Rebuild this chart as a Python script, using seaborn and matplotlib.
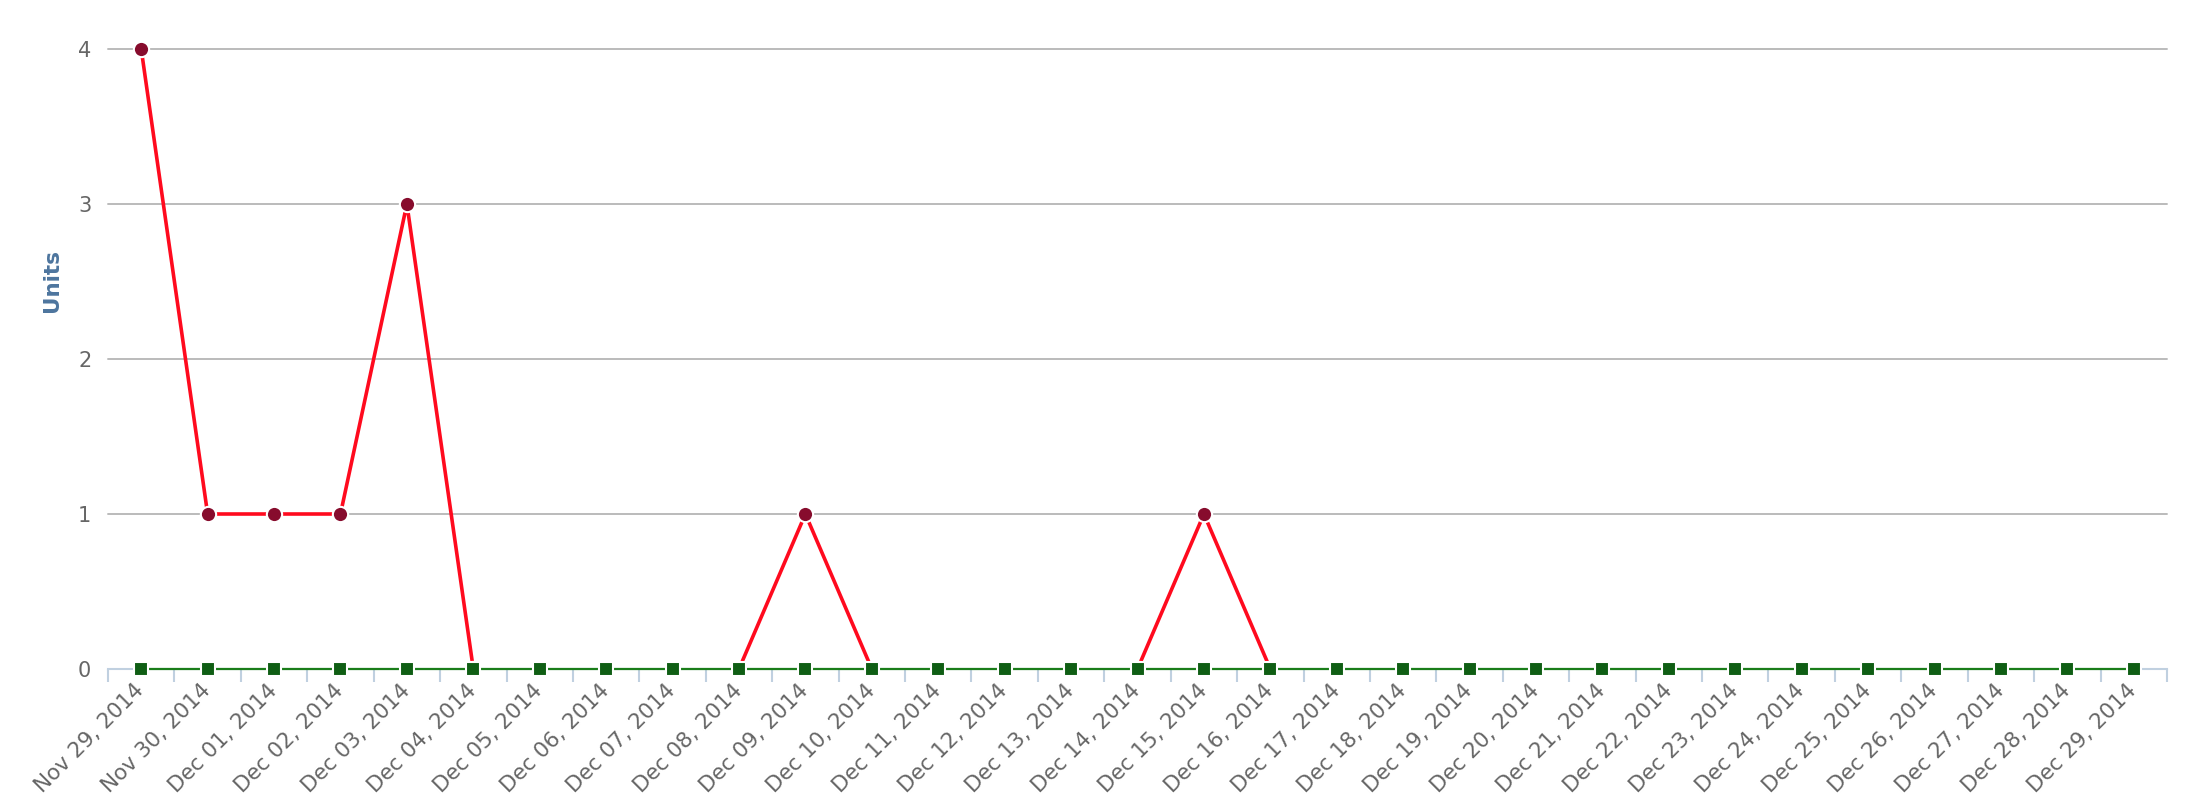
"""
Daily units line chart, Nov 29 - Dec 29 2014
"""
import matplotlib
matplotlib.use("Agg")
import matplotlib.pyplot as plt
import seaborn as sns
import numpy as np
import pandas as pd

nan = np.nan

# ========== Data ==========
dates = [
    "Nov 29, 2014", "Nov 30, 2014", "Dec 01, 2014", "Dec 02, 2014", "Dec 03, 2014",
    "Dec 04, 2014", "Dec 05, 2014", "Dec 06, 2014", "Dec 07, 2014", "Dec 08, 2014",
    "Dec 09, 2014", "Dec 10, 2014", "Dec 11, 2014", "Dec 12, 2014", "Dec 13, 2014",
    "Dec 14, 2014", "Dec 15, 2014", "Dec 16, 2014", "Dec 17, 2014", "Dec 18, 2014",
    "Dec 19, 2014", "Dec 20, 2014", "Dec 21, 2014", "Dec 22, 2014", "Dec 23, 2014",
    "Dec 24, 2014", "Dec 25, 2014", "Dec 26, 2014", "Dec 27, 2014", "Dec 28, 2014",
    "Dec 29, 2014",
]
red_units = [4, 1, 1, 1, 3, 0, nan, nan, nan, 0, 1, 0, nan, nan, nan, 0, 1, 0,
             nan, nan, nan, nan, nan, nan, nan, nan, nan, nan, nan, nan, nan]
green_units = [0, 0, 0, 0, 0, 0, 0, 0, 0, 0, 0, 0, 0, 0, 0, 0, 0, 0, 0, 0,
               0, 0, 0, 0, 0, 0, 0, 0, 0, 0, 0]
y_ticks = [0, 1, 2, 3, 4]

# Build frames (red line has gaps where values are missing)
idx = np.arange(len(dates))
df_red = pd.DataFrame({"x": idx, "units": red_units})
df_red["seg"] = df_red["units"].isna().cumsum()
df_red = df_red.dropna()
df_green = pd.DataFrame({"x": idx, "units": green_units})

# ========== Plot ==========
sns.set_style("white")
plt.rcParams["font.family"] = ["DejaVu Sans"]

fig = plt.figure(figsize=(21.91, 8.05), dpi=100)
ax = fig.add_axes([108 / 2191, 136 / 805, 2059 / 2191, 620 / 805])

sns.lineplot(data=df_red, x="x", y="units", units="seg", estimator=None,
             color="#ff0a1e", linewidth=2.6, marker="o", markersize=11,
             markerfacecolor="#870c2d", markeredgecolor="white",
             markeredgewidth=1.5, clip_on=False, zorder=3, ax=ax)
sns.lineplot(data=df_green, x="x", y="units", estimator=None,
             color="#1a7d1a", linewidth=1.6, marker="s", markersize=10,
             markerfacecolor="#0f5e14", markeredgecolor="white",
             markeredgewidth=1.5, clip_on=False, zorder=4, ax=ax)

ax.set_xlim(-0.5, len(dates) - 0.5)
ax.set_ylim(0, 4)
ax.set_yticks(y_ticks)
ax.set_xticks(idx)
ax.set_xticklabels(dates, rotation=45, ha="right", va="center",
                   rotation_mode="anchor", fontsize=15.5, color="#666666")
ax.set_xticks(np.arange(-0.5, len(dates), 1.0), minor=True)
ax.tick_params(axis="x", which="major", bottom=True, length=0, pad=13)
ax.tick_params(axis="x", which="minor", bottom=True, length=9, width=1.5,
               color="#c0d0e0")
ax.tick_params(axis="y", length=0, pad=12, labelsize=15, labelcolor="#666666")

ax.yaxis.grid(True, color="#bbbbbb", linewidth=1.4)
ax.xaxis.grid(False)
for line in ax.get_ygridlines():
    line.set_clip_on(False)
for side in ["left", "top", "right"]:
    ax.spines[side].set_visible(False)
ax.spines["bottom"].set_color("#c0d0e0")
ax.spines["bottom"].set_linewidth(1.5)

ax.set_xlabel("")
ax.set_ylabel("Units", fontsize=15.5, fontweight="bold", color="#4d759e")
ax.yaxis.set_label_coords(-0.0225, 0.626)

plt.savefig("out.png", dpi=100)
plt.close()
